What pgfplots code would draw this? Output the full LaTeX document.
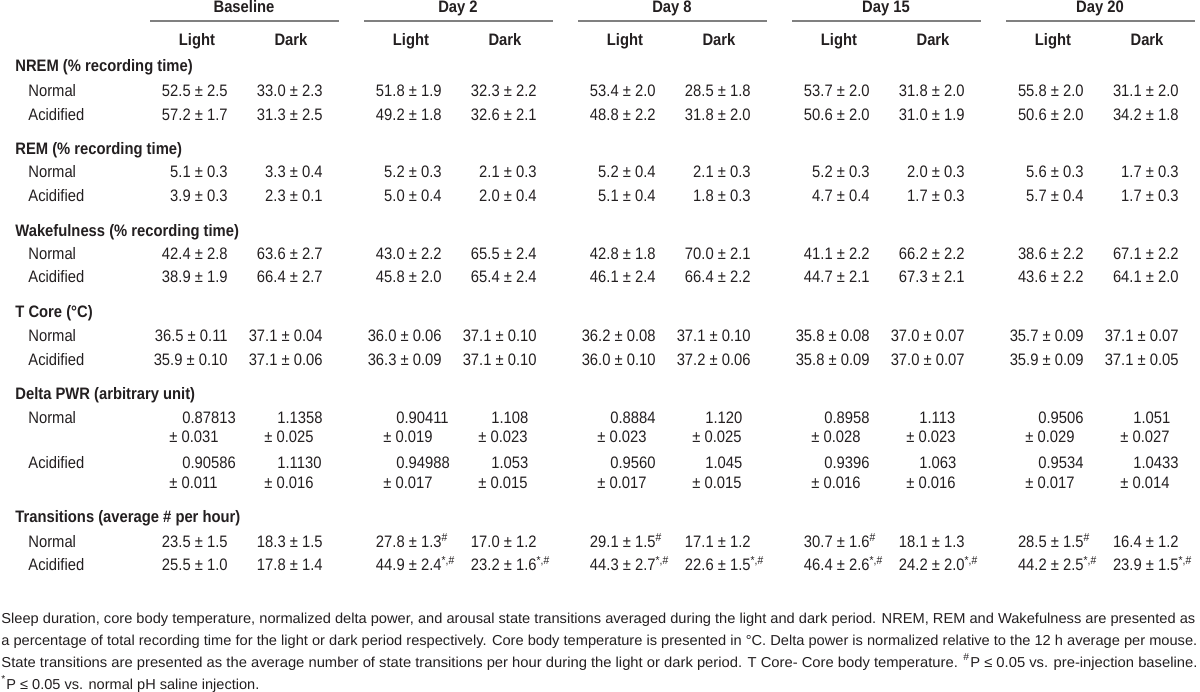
\documentclass[border=0pt]{standalone}
\usepackage{pgfplots}
\pgfplotsset{compat=1.18}
\usepackage{graphicx}
\usepackage{fontspec}
\setmainfont{Liberation Sans}[FakeStretch=0.89]
\newfontfamily\capfont{Liberation Sans}[FakeStretch=0.95]
\definecolor{ink}{HTML}{231F20}

\newcommand{\body}{\fontsize{8.3}{10}\selectfont}
\tikzset{
  val/.style={anchor=base east, inner sep=0pt, text=ink, font=\body},
  dv/.style={anchor=base west, inner sep=0pt, text=ink, font=\body},
  lab/.style={anchor=base west, inner sep=0pt, text=ink, font=\body},
  head/.style={anchor=base west, inner sep=0pt, text=ink, font=\body\bfseries},
  colh/.style={anchor=base, inner sep=0pt, text=ink, font=\body\bfseries},
}
\newcommand{\su}[1]{\rlap{\textsuperscript{#1}}}
% one row of values, light columns then dark columns
\newcommand{\lights}[6]{%
  \node[val] at (axis cs:228,#1) {#2};
  \node[val] at (axis cs:442,#1) {#3};
  \node[val] at (axis cs:656,#1) {#4};
  \node[val] at (axis cs:870,#1) {#5};
  \node[val] at (axis cs:1084,#1) {#6};}
\newcommand{\darks}[6]{%
  \node[val] at (axis cs:323,#1) {#2};
  \node[val] at (axis cs:537,#1) {#3};
  \node[val] at (axis cs:751,#1) {#4};
  \node[val] at (axis cs:965,#1) {#5};
  \node[val] at (axis cs:1179,#1) {#6};}
% two-line delta power cell
\newcommand{\dcell}[4]{%
  \node[dv] at (axis cs:{#1+13},#2) {#3};
  \node[dv] at (axis cs:#1,{#2+20}) {± #4};}

\begin{document}
\begin{tikzpicture}
\begin{axis}[
    scale only axis,
    width=600pt, height=345.5pt,
    xmin=0, xmax=1200, ymin=0, ymax=691,
    y dir=reverse,
    hide axis,
    clip=false
  ]
  \path (axis cs:0,0) rectangle (axis cs:1200,691);

  % column headers
  \node[colh] at (axis cs:244,13) {Baseline};
  \node[colh] at (axis cs:458,13) {Day 2};
  \node[colh] at (axis cs:672,13) {Day 8};
  \node[colh] at (axis cs:886,13) {Day 15};
  \node[colh] at (axis cs:1100,13) {Day 20};
  \draw[black!50, line width=1pt] (axis cs:150,21) -- (axis cs:339,21);
  \draw[black!50, line width=1pt] (axis cs:364,21) -- (axis cs:553,21);
  \draw[black!50, line width=1pt] (axis cs:578,21) -- (axis cs:767,21);
  \draw[black!50, line width=1pt] (axis cs:792,21) -- (axis cs:981,21);
  \draw[black!50, line width=1pt] (axis cs:1006,21) -- (axis cs:1195,21);
  \node[colh] at (axis cs:197,46) {Light};
  \node[colh] at (axis cs:291,46) {Dark};
  \node[colh] at (axis cs:411,46) {Light};
  \node[colh] at (axis cs:505,46) {Dark};
  \node[colh] at (axis cs:625,46) {Light};
  \node[colh] at (axis cs:719,46) {Dark};
  \node[colh] at (axis cs:839,46) {Light};
  \node[colh] at (axis cs:933,46) {Dark};
  \node[colh] at (axis cs:1053,46) {Light};
  \node[colh] at (axis cs:1147,46) {Dark};

  % NREM
  \node[head] at (axis cs:15,72) {NREM (\% recording time)};
  \node[lab] at (axis cs:28,97) {Normal};
  \node[lab] at (axis cs:28,121) {Acidified};
  \lights{97}{52.5 ± 2.5}{51.8 ± 1.9}{53.4 ± 2.0}{53.7 ± 2.0}{55.8 ± 2.0}
  \darks{97}{33.0 ± 2.3}{32.3 ± 2.2}{28.5 ± 1.8}{31.8 ± 2.0}{31.1 ± 2.0}
  \lights{121}{57.2 ± 1.7}{49.2 ± 1.8}{48.8 ± 2.2}{50.6 ± 2.0}{50.6 ± 2.0}
  \darks{121}{31.3 ± 2.5}{32.6 ± 2.1}{31.8 ± 2.0}{31.0 ± 1.9}{34.2 ± 1.8}

  % REM
  \node[head] at (axis cs:15,155) {REM (\% recording time)};
  \node[lab] at (axis cs:28,178) {Normal};
  \node[lab] at (axis cs:28,202) {Acidified};
  \lights{178}{5.1 ± 0.3}{5.2 ± 0.3}{5.2 ± 0.4}{5.2 ± 0.3}{5.6 ± 0.3}
  \darks{178}{3.3 ± 0.4}{2.1 ± 0.3}{2.1 ± 0.3}{2.0 ± 0.3}{1.7 ± 0.3}
  \lights{202}{3.9 ± 0.3}{5.0 ± 0.4}{5.1 ± 0.4}{4.7 ± 0.4}{5.7 ± 0.4}
  \darks{202}{2.3 ± 0.1}{2.0 ± 0.4}{1.8 ± 0.3}{1.7 ± 0.3}{1.7 ± 0.3}

  % Wakefulness
  \node[head] at (axis cs:15,237) {Wakefulness (\% recording time)};
  \node[lab] at (axis cs:28,260) {Normal};
  \node[lab] at (axis cs:28,283) {Acidified};
  \lights{260}{42.4 ± 2.8}{43.0 ± 2.2}{42.8 ± 1.8}{41.1 ± 2.2}{38.6 ± 2.2}
  \darks{260}{63.6 ± 2.7}{65.5 ± 2.4}{70.0 ± 2.1}{66.2 ± 2.2}{67.1 ± 2.2}
  \lights{283}{38.9 ± 1.9}{45.8 ± 2.0}{46.1 ± 2.4}{44.7 ± 2.1}{43.6 ± 2.2}
  \darks{283}{66.4 ± 2.7}{65.4 ± 2.4}{66.4 ± 2.2}{67.3 ± 2.1}{64.1 ± 2.0}

  % T Core
  \node[head] at (axis cs:15,318) {T Core (°C)};
  \node[lab] at (axis cs:28,342) {Normal};
  \node[lab] at (axis cs:28,365) {Acidified};
  \lights{342}{36.5 ± 0.11}{36.0 ± 0.06}{36.2 ± 0.08}{35.8 ± 0.08}{35.7 ± 0.09}
  \darks{342}{37.1 ± 0.04}{37.1 ± 0.10}{37.1 ± 0.10}{37.0 ± 0.07}{37.1 ± 0.07}
  \lights{365}{35.9 ± 0.10}{36.3 ± 0.09}{36.0 ± 0.10}{35.8 ± 0.09}{35.9 ± 0.09}
  \darks{365}{37.1 ± 0.06}{37.1 ± 0.10}{37.2 ± 0.06}{37.0 ± 0.07}{37.1 ± 0.05}

  % Delta power
  \node[head] at (axis cs:15,400) {Delta PWR (arbitrary unit)};
  \node[lab] at (axis cs:28,423) {Normal};
  \node[lab] at (axis cs:28,468) {Acidified};
  \dcell{169}{423}{0.87813}{0.031}
  \dcell{264}{423}{1.1358}{0.025}
  \dcell{383}{423}{0.90411}{0.019}
  \dcell{478}{423}{1.108}{0.023}
  \dcell{597}{423}{0.8884}{0.023}
  \dcell{692}{423}{1.120}{0.025}
  \dcell{811}{423}{0.8958}{0.028}
  \dcell{906}{423}{1.113}{0.023}
  \dcell{1025}{423}{0.9506}{0.029}
  \dcell{1120}{423}{1.051}{0.027}
  \dcell{169}{468}{0.90586}{0.011}
  \dcell{264}{468}{1.1130}{0.016}
  \dcell{383}{468}{0.94988}{0.017}
  \dcell{478}{468}{1.053}{0.015}
  \dcell{597}{468}{0.9560}{0.017}
  \dcell{692}{468}{1.045}{0.015}
  \dcell{811}{468}{0.9396}{0.016}
  \dcell{906}{468}{1.063}{0.016}
  \dcell{1025}{468}{0.9534}{0.017}
  \dcell{1120}{468}{1.0433}{0.014}

  % Transitions
  \node[head] at (axis cs:15,522) {Transitions (average \# per hour)};
  \node[lab] at (axis cs:28,547) {Normal};
  \node[lab] at (axis cs:28,570) {Acidified};
  \lights{547}{23.5 ± 1.5}{27.8 ± 1.3\su{\#}}{29.1 ± 1.5\su{\#}}{30.7 ± 1.6\su{\#}}{28.5 ± 1.5\su{\#}}
  \darks{547}{18.3 ± 1.5}{17.0 ± 1.2}{17.1 ± 1.2}{18.1 ± 1.3}{16.4 ± 1.2}
  \lights{570}{25.5 ± 1.0}{44.9 ± 2.4\su{*,\#}}{44.3 ± 2.7\su{*,\#}}{46.4 ± 2.6\su{*,\#}}{44.2 ± 2.5\su{*,\#}}
  \darks{570}{17.8 ± 1.4}{23.2 ± 1.6\su{*,\#}}{22.6 ± 1.5\su{*,\#}}{24.2 ± 2.0\su{*,\#}}{23.9 ± 1.5\su{*,\#}}

  % caption
  \node[anchor=base west, inner sep=0pt, text=ink] at (axis cs:1,623) {\capfont\fontsize{7.2}{8}\selectfont\resizebox{597pt}{\height}{Sleep duration, core body temperature, normalized delta power, and arousal state transitions averaged during the light and dark period. NREM, REM and Wakefulness are presented as}};
  \node[anchor=base west, inner sep=0pt, text=ink] at (axis cs:1,645) {\capfont\fontsize{7.2}{8}\selectfont\resizebox{598pt}{\height}{a percentage of total recording time for the light or dark period respectively. Core body temperature is presented in °C. Delta power is normalized relative to the 12 h average per mouse.}};
  \node[anchor=base west, inner sep=0pt, text=ink] at (axis cs:1,667) {\capfont\fontsize{7.2}{8}\selectfont\resizebox{598pt}{\height}{State transitions are presented as the average number of state transitions per hour during the light or dark period. T Core- Core body temperature. \textsuperscript{\#}P ≤ 0.05 vs. pre-injection baseline.}};
  \node[anchor=base west, inner sep=0pt, text=ink] at (axis cs:1,689) {\capfont\fontsize{7.2}{8}\selectfont\resizebox{129pt}{\height}{\textsuperscript{*}P ≤ 0.05 vs. normal pH saline injection.}};
\end{axis}
\end{tikzpicture}
\end{document}
